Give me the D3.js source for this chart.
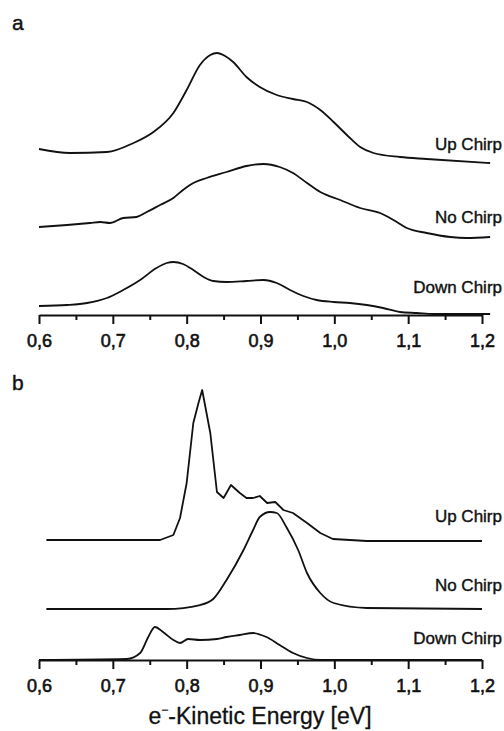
<!DOCTYPE html>
<html>
<head>
<meta charset="utf-8">
<script src="https://cdn.jsdelivr.net/npm/d3@7"></script>
<style>
  body { margin: 0; background: #fff; }
  svg { display: block; }
</style>
</head>
<body>
<div id="chart"></div>
<script>
// ── Data (energy in eV, intensity in arbitrary units incl. vertical offset) ──
var majorTicks = [0.6, 0.7, 0.8, 0.9, 1.0, 1.1, 1.2];
var minorTicks = [0.65, 0.75, 0.85, 0.95, 1.05, 1.15];
var seriesNames = ["Up Chirp", "No Chirp", "Down Chirp"];

// panel a
var upA_E = [0.600, 0.642, 0.692, 0.728, 0.755, 0.782, 0.800, 0.818, 0.832, 0.841, 0.852, 0.863, 0.881, 0.899, 0.922, 0.944, 0.963, 0.981, 0.999, 1.017, 1.035, 1.053, 1.089, 1.125, 1.211];
var upA_I = [1.66, 1.62, 1.63, 1.72, 1.83, 2.02, 2.25, 2.50, 2.60, 2.62, 2.59, 2.53, 2.38, 2.28, 2.20, 2.16, 2.13, 2.05, 1.93, 1.80, 1.68, 1.62, 1.58, 1.56, 1.52];
var noA_E = [0.600, 0.638, 0.669, 0.683, 0.696, 0.714, 0.732, 0.746, 0.764, 0.782, 0.795, 0.809, 0.827, 0.854, 0.881, 0.904, 0.926, 0.944, 0.963, 0.981, 1.008, 1.035, 1.062, 1.080, 1.098, 1.125, 1.157, 1.179, 1.211];
var noA_I = [0.88, 0.90, 0.92, 0.93, 0.92, 0.97, 0.98, 1.03, 1.10, 1.17, 1.25, 1.32, 1.37, 1.43, 1.49, 1.51, 1.48, 1.42, 1.32, 1.23, 1.15, 1.07, 1.02, 0.95, 0.87, 0.82, 0.78, 0.77, 0.78];
var downA_E = [0.600, 0.638, 0.665, 0.692, 0.714, 0.737, 0.759, 0.773, 0.782, 0.795, 0.809, 0.823, 0.836, 0.854, 0.881, 0.904, 0.922, 0.940, 0.958, 0.976, 0.999, 1.021, 1.044, 1.066, 1.089, 1.112, 1.134, 1.179, 1.211];
var downA_I = [0.09, 0.10, 0.12, 0.17, 0.25, 0.35, 0.47, 0.52, 0.53, 0.51, 0.45, 0.38, 0.34, 0.33, 0.34, 0.35, 0.32, 0.25, 0.19, 0.15, 0.13, 0.12, 0.10, 0.07, 0.03, 0.02, 0.01, 0.01, 0.01];

// panel b
var upB_E = [0.610, 0.764, 0.782, 0.791, 0.800, 0.809, 0.816, 0.821, 0.832, 0.841, 0.850, 0.860, 0.872, 0.881, 0.890, 0.899, 0.909, 0.920, 0.931, 0.944, 0.963, 0.981, 0.998, 1.044, 1.200];
var upB_I = [1.20, 1.20, 1.25, 1.42, 1.77, 2.37, 2.57, 2.70, 2.27, 1.68, 1.62, 1.75, 1.67, 1.62, 1.62, 1.64, 1.57, 1.58, 1.50, 1.47, 1.37, 1.27, 1.21, 1.19, 1.19];
var noB_E = [0.610, 0.773, 0.818, 0.836, 0.854, 0.877, 0.890, 0.899, 0.913, 0.922, 0.935, 0.951, 0.963, 0.981, 0.999, 1.044, 1.200];
var noB_I = [0.51, 0.51, 0.55, 0.61, 0.80, 1.10, 1.30, 1.43, 1.48, 1.47, 1.33, 1.10, 0.87, 0.67, 0.57, 0.52, 0.51];
var downB_E = [0.600, 0.719, 0.737, 0.748, 0.757, 0.768, 0.782, 0.791, 0.802, 0.818, 0.841, 0.854, 0.872, 0.890, 0.908, 0.926, 0.944, 0.963, 0.981, 1.200];
var downB_I = [0.00, 0.01, 0.07, 0.23, 0.33, 0.28, 0.20, 0.17, 0.21, 0.20, 0.21, 0.23, 0.25, 0.27, 0.23, 0.15, 0.07, 0.02, 0.00, 0.00];

function zipPts(E, I) {
  return E.map(function (e, i) { return [e, I[i]]; });
}

var width = 504, height = 731;
var FONT = "'Liberation Sans', Arial, sans-serif";
var INK = "#111";

var svg = d3.select("#chart").append("svg")
  .attr("width", width).attr("height", height);

var x = d3.scaleLinear().domain([0.6, 1.2]).range([39, 482]);

var panels = [
  {
    letter: "a", letterY: 30,
    y: d3.scaleLinear().domain([0, 2.8]).range([315, 35]),
    series: [zipPts(upA_E, upA_I), zipPts(noA_E, noA_I), zipPts(downA_E, downA_I)],
    curves: [d3.curveMonotoneX, d3.curveMonotoneX, d3.curveMonotoneX],
    labelY: [150, 223, 293]
  },
  {
    letter: "b", letterY: 390,
    y: d3.scaleLinear().domain([0, 2.9]).range([660, 370]),
    series: [zipPts(upB_E, upB_I), zipPts(noB_E, noB_I), zipPts(downB_E, downB_I)],
    curves: [d3.curveLinear, d3.curveMonotoneX, d3.curveMonotoneX],
    labelY: [522, 591, 644]
  }
];

function tickLabel(d) { return d3.format(".1f")(d).replace(".", ","); }

panels.forEach(function (p) {
  var g = svg.append("g");
  var axisY = p.y(0);

  // Curves
  p.series.forEach(function (pts, i) {
    var line = d3.line()
      .x(function (d) { return x(d[0]); })
      .y(function (d) { return p.y(d[1]); })
      .curve(p.curves[i]);
    g.append("path")
      .attr("d", line(pts))
      .attr("fill", "none")
      .attr("stroke", INK)
      .attr("stroke-width", 1.8)
      .attr("stroke-linejoin", "round");
  });

  // Minor ticks
  g.append("g")
    .attr("transform", "translate(0," + axisY + ")")
    .call(d3.axisBottom(x).tickValues(minorTicks).tickSize(5).tickFormat(""))
    .call(function (gg) { gg.select(".domain").remove(); })
    .call(function (gg) { gg.selectAll(".tick line").attr("stroke", INK).attr("stroke-width", 2); });

  // Major ticks + labels
  g.append("g")
    .attr("transform", "translate(0," + axisY + ")")
    .call(d3.axisBottom(x).tickValues(majorTicks).tickSize(9).tickSizeOuter(0).tickPadding(10).tickFormat(tickLabel))
    .call(function (gg) { gg.select(".domain").attr("stroke", INK).attr("stroke-width", 2); })
    .call(function (gg) { gg.selectAll(".tick line").attr("stroke", INK).attr("stroke-width", 2); })
    .call(function (gg) {
      gg.selectAll(".tick text")
        .attr("font-family", FONT).attr("font-size", 18)
        .attr("fill", INK).attr("stroke", INK).attr("stroke-width", 0.6);
    });

  // Series labels
  g.selectAll(".series-label")
    .data(seriesNames).join("text")
      .attr("class", "series-label")
      .attr("x", 502)
      .attr("y", function (d, i) { return p.labelY[i]; })
      .attr("text-anchor", "end")
      .attr("font-family", FONT).attr("font-size", 17)
      .attr("fill", INK).attr("stroke", INK).attr("stroke-width", 0.4)
      .text(function (d) { return d; });

  // Panel letter
  svg.append("text")
    .attr("x", 12).attr("y", p.letterY)
    .attr("font-family", FONT).attr("font-size", 21)
    .attr("fill", INK).attr("stroke", INK).attr("stroke-width", 0.4)
    .text(p.letter);
});

// Axis title
var title = svg.append("text")
  .attr("x", 260).attr("y", 724)
  .attr("text-anchor", "middle")
  .attr("font-family", FONT).attr("font-size", 23)
  .attr("fill", INK).attr("stroke", INK).attr("stroke-width", 0.3);
title.append("tspan").text("e");
title.append("tspan").attr("font-size", 12).attr("dy", -10).text("−");
title.append("tspan").attr("dy", 10).text("-Kinetic Energy [eV]");
</script>
</body>
</html>
